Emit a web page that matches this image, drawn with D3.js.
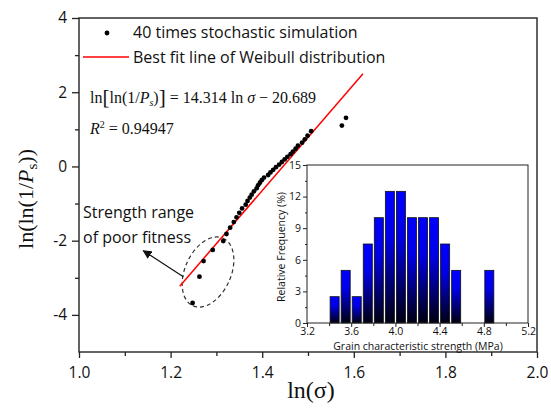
<!DOCTYPE html>
<html>
<head>
<meta charset="utf-8">
<script src="https://cdn.jsdelivr.net/npm/d3@7"></script>
<style>
  body { margin: 0; background: #fff; }
  svg { display: block; }
</style>
</head>
<body>
<div id="chart"></div>
<script>
// Weibull plot of 40 stochastic simulations, with the strength histogram as inset

const width = 551;
const height = 409;

// main plot data
const lnSigma = [1.248, 1.263, 1.272, 1.292, 1.315, 1.322, 1.330, 1.338, 1.344, 1.350,
                 1.356, 1.364, 1.368, 1.373, 1.377, 1.382, 1.388, 1.391, 1.395, 1.399,
                 1.404, 1.413, 1.418, 1.424, 1.430, 1.437, 1.443, 1.449, 1.455, 1.462,
                 1.467, 1.473, 1.478, 1.487, 1.493, 1.499, 1.507, 1.574, 1.583];
const lnlnPs = [-3.68, -2.97, -2.55, -2.25, -2.01, -1.82, -1.65, -1.50, -1.37, -1.25,
                -1.13, -1.03, -0.93, -0.84, -0.76, -0.67, -0.59, -0.51, -0.44, -0.37,
                -0.30, -0.23, -0.16, -0.09, -0.02, 0.05, 0.12, 0.19, 0.26, 0.33,
                0.40, 0.48, 0.56, 0.64, 0.73, 0.83, 0.95, 1.10, 1.31];

// best fit line from the equation shown on the chart
const fitSlope = 14.314;
const fitIntercept = -20.689;
const fitRange = [1.22, 1.62];

// axis ticks
const xTicks = [1.0, 1.2, 1.4, 1.6, 1.8, 2.0];
const xMinor = [1.1, 1.3, 1.5, 1.7, 1.9];
const yTicks = [-4, -2, 0, 2, 4];
const yMinor = [-3, -1, 1, 3];

// inset histogram data
const binStart = [3.4, 3.5, 3.6, 3.7, 3.8, 3.9, 4.0, 4.1, 4.2, 4.3, 4.4, 4.5, 4.8];
const freq = [2.5, 5, 2.5, 7.5, 10, 12.5, 12.5, 10, 10, 10, 7.5, 5, 5];
const binWidth = 0.1;
const insetXTicks = [3.2, 3.6, 4.0, 4.4, 4.8, 5.2];
const insetXMinor = [3.4, 3.8, 4.2, 4.6, 5.0];
const insetYTicks = [0, 3, 6, 9, 12, 15];
const insetYMinor = [1.5, 4.5, 7.5, 10.5, 13.5];

const sans = "'Open Sans', sans-serif";
const serif = "'Liberation Serif', 'Times New Roman', serif";
const axisColor = "#222";

const svg = d3.select("#chart")
  .append("svg")
  .attr("width", width)
  .attr("height", height);

svg.append("rect").attr("width", width).attr("height", height).attr("fill", "#fff");

// scales
const x = d3.scaleLinear().domain([1.0, 2.0]).range([79, 537]);
const y = d3.scaleLinear().domain([-5, 4]).range([352, 18]);

// helper to style an axis group
function styleAxis(g, size) {
  g.select(".domain").remove();
  g.selectAll("line").attr("stroke", axisColor).attr("stroke-width", 1.3);
  g.selectAll("text").attr("fill", "#111").attr("font-family", sans).attr("font-size", size);
}

// y axis
svg.append("g")
  .attr("transform", `translate(${x(1.0)},0)`)
  .call(d3.axisLeft(y).tickValues(yTicks).tickSize(7).tickPadding(5).tickFormat(d => String(d)))
  .call(g => styleAxis(g, 15.5));
svg.append("g")
  .attr("transform", `translate(${x(1.0)},0)`)
  .call(d3.axisLeft(y).tickValues(yMinor).tickSize(4).tickFormat(""))
  .call(g => styleAxis(g, 15.5));

// x axis
svg.append("g")
  .attr("transform", `translate(0,${y(-5)})`)
  .call(d3.axisBottom(x).tickValues(xTicks).tickSize(6).tickPadding(9).tickFormat(d3.format(".1f")))
  .call(g => styleAxis(g, 15.5));
svg.append("g")
  .attr("transform", `translate(0,${y(-5)})`)
  .call(d3.axisBottom(x).tickValues(xMinor).tickSize(4).tickFormat(""))
  .call(g => styleAxis(g, 15.5));

// plot frame
svg.append("rect")
  .attr("x", x(1.0)).attr("y", y(4))
  .attr("width", x(2.0) - x(1.0)).attr("height", y(-5) - y(4))
  .attr("fill", "none").attr("stroke", axisColor).attr("stroke-width", 1.4);

// axis titles
const yTitle = svg.append("text")
  .attr("transform", `translate(33,${(y(4) + y(-5)) / 2 + 14}) rotate(-90)`)
  .attr("text-anchor", "middle")
  .attr("font-family", serif).attr("font-size", 22).attr("fill", "#111");
yTitle.append("tspan").text("ln(ln(1/");
yTitle.append("tspan").attr("font-style", "italic").text("P");
yTitle.append("tspan").attr("font-size", 15).attr("dy", 4).text("s");
yTitle.append("tspan").attr("dy", -4).text("))");

svg.append("text")
  .attr("x", (x(1.0) + x(2.0)) / 2 + 3).attr("y", 398)
  .attr("text-anchor", "middle")
  .attr("font-family", serif).attr("font-size", 24).attr("fill", "#111")
  .text("ln(σ)");

// ellipse marking the poor-fit range
svg.append("ellipse")
  .attr("transform", `translate(${x(1.2817)},${y(-2.845)}) rotate(-66)`)
  .attr("rx", 37).attr("ry", 23)
  .attr("fill", "none").attr("stroke", "#333").attr("stroke-width", 1.2)
  .attr("stroke-dasharray", "4,3");

// fit line
svg.append("line")
  .attr("x1", x(fitRange[0])).attr("y1", y(fitSlope * fitRange[0] + fitIntercept))
  .attr("x2", x(fitRange[1])).attr("y2", y(fitSlope * fitRange[1] + fitIntercept))
  .attr("stroke", "#ff0000").attr("stroke-width", 1.5);

// scatter points
svg.selectAll(".pt")
  .data(lnSigma)
  .enter()
  .append("circle")
    .attr("class", "pt")
    .attr("cx", d => x(d))
    .attr("cy", (d, i) => y(lnlnPs[i]))
    .attr("r", 2.4)
    .attr("fill", "#000");

// arrow to the annotation
svg.append("defs").append("marker")
  .attr("id", "arrow")
  .attr("viewBox", "0 0 10 10")
  .attr("refX", 9).attr("refY", 5)
  .attr("markerWidth", 9).attr("markerHeight", 9)
  .attr("markerUnits", "userSpaceOnUse")
  .attr("orient", "auto")
  .append("path").attr("d", "M0,0 L10,5 L0,10 Z").attr("fill", "#111");

svg.append("line")
  .attr("x1", x(1.2277)).attr("y1", y(-2.97))
  .attr("x2", x(1.1404)).attr("y2", y(-2.27))
  .attr("stroke", "#111").attr("stroke-width", 1.2)
  .attr("marker-end", "url(#arrow)");

svg.append("text").attr("x", 83).attr("y", 218)
  .attr("font-family", sans).attr("font-size", 16).attr("fill", "#111")
  .text("Strength range");
svg.append("text").attr("x", 83).attr("y", 243)
  .attr("font-family", sans).attr("font-size", 16).attr("fill", "#111")
  .text("of poor fitness");

// legend
svg.append("circle").attr("cx", 107).attr("cy", 33).attr("r", 2.4).attr("fill", "#000");
svg.append("text").attr("x", 133).attr("y", 38)
  .attr("font-family", sans).attr("font-size", 16).attr("fill", "#111")
  .text("40 times stochastic simulation");
svg.append("line").attr("x1", 83).attr("x2", 129).attr("y1", 57).attr("y2", 57)
  .attr("stroke", "#ff0000").attr("stroke-width", 1.5);
svg.append("text").attr("x", 133).attr("y", 63)
  .attr("font-family", sans).attr("font-size", 16).attr("fill", "#111")
  .text("Best fit line of Weibull distribution");

// fit equation
const eq = svg.append("text").attr("x", 90).attr("y", 103)
  .attr("font-family", serif).attr("font-size", 16).attr("fill", "#111");
eq.append("tspan").text("ln");
eq.append("tspan").attr("font-size", 21).attr("dy", 1).text("[");
eq.append("tspan").attr("dy", -1).text("ln(1/");
eq.append("tspan").attr("font-style", "italic").text("P");
eq.append("tspan").attr("font-style", "italic").attr("font-size", 10).attr("dy", 3).text("s");
eq.append("tspan").attr("dy", -3).text(")");
eq.append("tspan").attr("font-size", 21).attr("dy", 1).text("]");
eq.append("tspan").attr("dy", -1).text(" = 14.314 ln ");
eq.append("tspan").attr("font-style", "italic").text("σ");
eq.append("tspan").text(" − 20.689");

const r2 = svg.append("text").attr("x", 90).attr("y", 134)
  .attr("font-family", serif).attr("font-size", 16).attr("fill", "#111");
r2.append("tspan").attr("font-style", "italic").text("R");
r2.append("tspan").attr("font-size", 10).attr("dy", -6).text("2");
r2.append("tspan").attr("dy", 6).text(" = 0.94947");

/*
  Inset histogram
*/
const ix = d3.scaleLinear().domain([3.2, 5.2]).range([307, 528]);
const iy = d3.scaleLinear().domain([0, 15]).range([323, 165]);

const grad = svg.select("defs").append("linearGradient")
  .attr("id", "barGrad")
  .attr("x1", 0).attr("y1", 0).attr("x2", 0).attr("y2", 1);
grad.append("stop").attr("offset", 0).attr("stop-color", "#0000ff");
grad.append("stop").attr("offset", 0.35).attr("stop-color", "#0000e6");
grad.append("stop").attr("offset", 1).attr("stop-color", "#000010");

svg.append("rect")
  .attr("x", ix(3.2)).attr("y", iy(15))
  .attr("width", ix(5.2) - ix(3.2)).attr("height", iy(0) - iy(15))
  .attr("fill", "#fff");

svg.selectAll(".bar")
  .data(freq)
  .enter()
  .append("rect")
    .attr("class", "bar")
    .attr("x", (d, i) => ix(binStart[i]) + 1)
    .attr("y", d => iy(d))
    .attr("width", ix(binWidth + 3.2) - ix(3.2) - 2)
    .attr("height", d => iy(0) - iy(d))
    .attr("fill", "url(#barGrad)")
    .attr("stroke", "#111").attr("stroke-width", 0.8);

function styleInset(g) {
  g.select(".domain").remove();
  g.selectAll("line").attr("stroke", axisColor).attr("stroke-width", 1);
  g.selectAll("text").attr("fill", "#111").attr("font-family", sans).attr("font-size", 10.5);
}

svg.append("g")
  .attr("transform", `translate(${ix(3.2)},0)`)
  .call(d3.axisLeft(iy).tickValues(insetYTicks).tickSize(4).tickPadding(2))
  .call(styleInset);
svg.append("g")
  .attr("transform", `translate(${ix(3.2)},0)`)
  .call(d3.axisLeft(iy).tickValues(insetYMinor).tickSize(2).tickFormat(""))
  .call(styleInset);
svg.append("g")
  .attr("transform", `translate(0,${iy(0)})`)
  .call(d3.axisBottom(ix).tickValues(insetXTicks).tickSize(4).tickPadding(1).tickFormat(d3.format(".1f")))
  .call(styleInset);
svg.append("g")
  .attr("transform", `translate(0,${iy(0)})`)
  .call(d3.axisBottom(ix).tickValues(insetXMinor).tickSize(3).tickFormat(""))
  .call(styleInset);

svg.append("rect")
  .attr("x", ix(3.2)).attr("y", iy(15))
  .attr("width", ix(5.2) - ix(3.2)).attr("height", iy(0) - iy(15))
  .attr("fill", "none").attr("stroke", axisColor).attr("stroke-width", 1);

svg.append("text")
  .attr("transform", `translate(285,${(iy(0) + iy(15)) / 2 + 3}) rotate(-90)`)
  .attr("text-anchor", "middle")
  .attr("font-family", sans).attr("font-size", 10.5).attr("fill", "#111")
  .text("Relative Frequency (%)");
svg.append("text")
  .attr("x", 418).attr("y", 350)
  .attr("text-anchor", "middle")
  .attr("font-family", sans).attr("font-size", 10.5).attr("fill", "#111")
  .text("Grain characteristic strength (MPa)");
</script>
</body>
</html>
